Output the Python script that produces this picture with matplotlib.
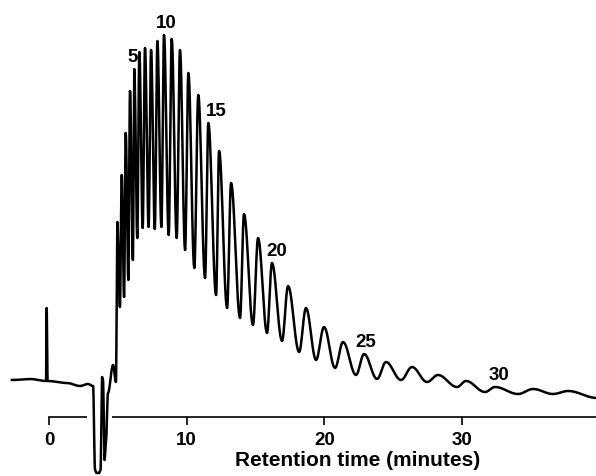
import numpy as np
import matplotlib.pyplot as plt

plt.rcParams['font.family'] = ['Liberation Sans', 'DejaVu Sans']

# retention time in minutes, detector signal in arbitrary units (baseline = 0)
# injection region: solvent front, negative system peak, small bump
pre_time = [-2.70, -1.38, -0.22, -0.17, -0.11, 1.31, 2.25, 2.83, 3.20,
            3.34, 3.45, 3.63, 3.74, 3.85, 3.92, 4.03, 4.14, 4.28, 4.65, 4.86]
pre_signal = [0, 1, -1, 72, -1, -3, -6, -4, -6,
              -90, -93, -93, -90, 3, 0, -80, -60, -13, 15, -2]

# oligomer peaks 1..32 (apex)
peak_time = [4.96, 5.28, 5.57, 5.88, 6.19, 6.56, 6.97, 7.41, 7.87, 8.35,
             8.91, 9.51, 10.12, 10.84, 11.57, 12.35, 13.22, 14.16, 15.18, 16.19,
             17.36, 18.66, 19.97, 21.35, 22.88, 24.47, 26.36, 28.25, 30.28, 32.39,
             35.15, 37.69]
peak_height = [158, 205, 247, 289, 311, 328, 332, 330, 339, 345,
               341, 330, 307, 285, 257, 229, 197, 166, 142, 117,
               94, 72, 53, 38, 26, 18, 13, 5, -1, -7,
               -9, -11]

# minima between consecutive peaks
valley_time = [5.15, 5.45, 5.76, 6.09, 6.41, 6.80, 7.23, 7.68, 8.16, 8.69,
               9.27, 9.88, 10.55, 11.33, 12.13, 12.93, 13.87, 14.81, 15.83, 16.92,
               18.16, 19.39, 20.77, 22.29, 23.82, 25.56, 27.45, 29.63, 31.66, 34.06,
               36.60]
valley_height = [73, 83, 100, 120, 142, 152, 153, 151, 153, 145,
                 142, 130, 112, 102, 85, 72, 62, 55, 47, 39,
                 28, 20, 12, 5, 1, 0, -2, -7, -12, -14,
                 -14]

end_time = [39.8]
end_signal = [-18]

labelled_peaks = [5, 10, 15, 20, 25, 30]
label_dx = [-1.5, 1.5, 5.5, 3.5, 1.5, 3.0]

# assemble the trace: pre-region, then alternating apex / valley, then tail
key_t = list(pre_time)
key_s = list(pre_signal)
for i in range(len(peak_time)):
    key_t.append(peak_time[i])
    key_s.append(peak_height[i])
    if i < len(valley_time):
        key_t.append(valley_time[i])
        key_s.append(valley_height[i])
key_t += end_time
key_s += end_signal

# smooth (cosine-eased) pen trace between the read-off points
tt, ss = [], []
u = np.linspace(0, 1, 12, endpoint=False)
for i in range(len(key_t) - 1):
    w = (1 - np.cos(np.pi * u)) / 2
    tt.extend(key_t[i] + (key_t[i + 1] - key_t[i]) * u)
    ss.extend(key_s[i] + (key_s[i + 1] - key_s[i]) * w)
tt.append(key_t[-1])
ss.append(key_s[-1])

fig = plt.figure(figsize=(5.96, 4.76), dpi=100)
ax = fig.add_axes([0, 0, 1, 1])

ax.plot(tt, ss, color='black', lw=1.8, zorder=3, solid_joinstyle='round')

# axis line interrupted where the system peak crosses it
ax.hlines(-37, 2.76, 4.58, color='white', lw=4, zorder=2.6)

for n, dx in zip(labelled_peaks, label_dx):
    ax.annotate(str(n), xy=(peak_time[n - 1], peak_height[n - 1]),
                xytext=(dx, 8.6), textcoords='offset points',
                ha='center', va='center', fontsize=13.5, fontweight='bold')

ax.set_xlim(-3.56, 39.72)
ax.set_ylim(-96, 380)

for side in ['top', 'left', 'right']:
    ax.spines[side].set_visible(False)
ax.spines['bottom'].set_position(('data', -37))
ax.spines['bottom'].set_bounds(0, 39.8)
ax.spines['bottom'].set_linewidth(1.2)
ax.set_yticks([])
ax.set_xticks([0, 10, 20, 30])
ax.tick_params(axis='x', direction='out', length=5.8, width=1.2, pad=5,
               labelsize=13.5)
for lab in ax.get_xticklabels():
    lab.set_fontweight('bold')

ax.set_xlabel('Retention time (minutes)', fontsize=15, fontweight='bold')
ax.xaxis.set_label_coords(0.60, 0.052)
ax.xaxis.label.set_va('top')

fig.savefig('out.png', dpi=100)
